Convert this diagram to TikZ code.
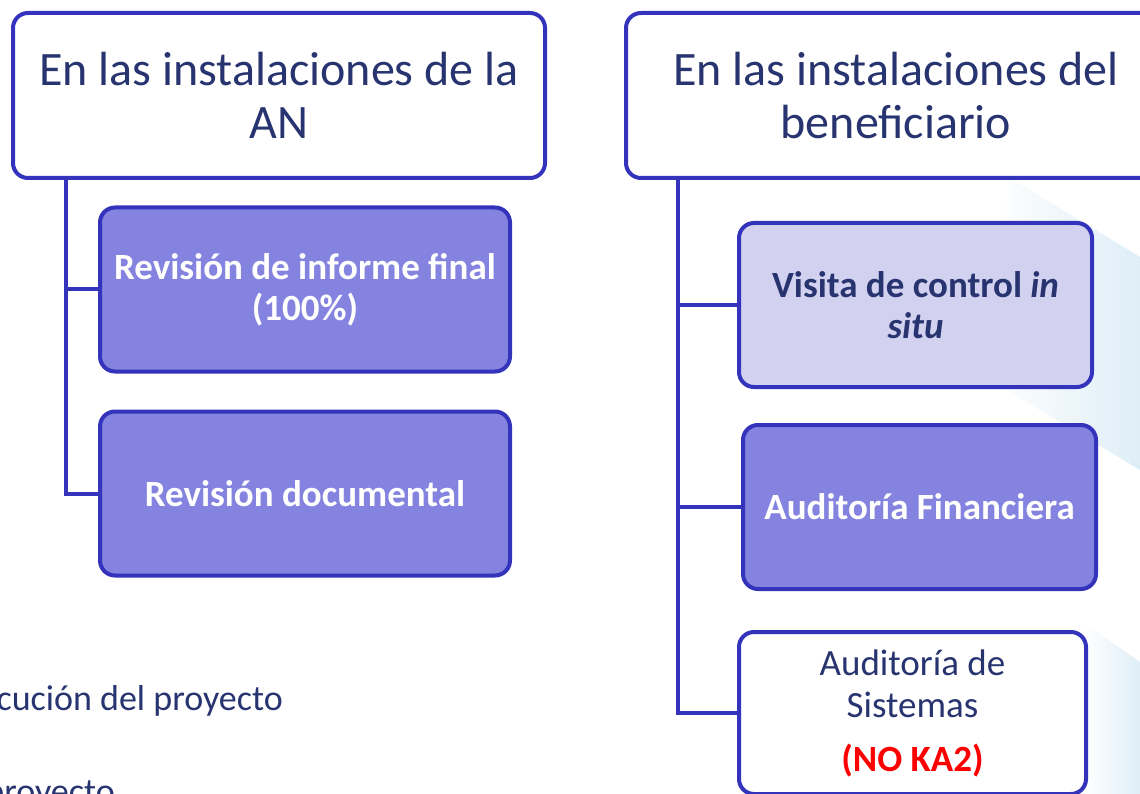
\documentclass[tikz,border=0pt]{standalone}
\usepackage{fontspec}
\setmainfont{Carlito}
\usetikzlibrary{positioning}
\definecolor{borde}{RGB}{51,51,187}
\definecolor{lila}{RGB}{132,132,224}
\definecolor{lilaclaro}{RGB}{210,210,240}
\definecolor{marino}{RGB}{40,52,112}
\definecolor{celeste}{RGB}{222,238,247}

\begin{document}
\begin{tikzpicture}[x=1pt, y=-1pt,
    caja/.style={draw=borde, line width=4pt, rounded corners=15pt, align=center, inner sep=0pt},
    titulo/.style={caja, fill=white, minimum width=532pt, minimum height=165pt, text=marino, font=\fontsize{48}{53}\selectfont},
    hoja/.style={caja, minimum width=410pt, minimum height=164pt, font=\fontsize{37}{41}\selectfont\bfseries},
    rama/.style={draw=borde, line width=4pt},
    fondo/.style={anchor=base east, inner sep=0pt, text=marino, font=\fontsize{36}{42}\selectfont}]
    \useasboundingbox (0,0) rectangle (1140,794);
    \clip (0,0) rectangle (1140,794);
    % 背景
    \shade[left color=white, right color=celeste] (1010,178) -- (1140,257) -- (1140,470) -- (990,380) -- cycle;
    \shade[left color=white, right color=celeste] (1083,622) -- (1140,662) -- (1140,794) -- (1083,794) -- cycle;
    \node[fondo] (txt1) at (283,710) {cución del proyecto};
    \node[fondo] (txt2) at (115,803) {proyecto};
    % 两个标题
    \node[titulo] (AN) at (279,95.5) {En las instalaciones de la\\AN};
    \node[titulo, minimum width=540pt] (BEN) at (896,95.5) {En las instalaciones del\\beneficiario};
    % 左边
    \node[hoja, fill=lila, text=white] (R1) at (305,289.5) {Revisión de informe final\\(100\%)};
    \node[hoja, fill=lila, text=white] (R2) at (305,493.5) {Revisión documental};
    % 右边
    \node[hoja, fill=lilaclaro, text=marino, minimum width=353pt] (V1) at (915.5,305) {Visita de control \textit{in}\\\textit{situ}};
    \node[hoja, fill=lila, text=white, minimum width=353pt] (V2) at (919.5,507) {Auditoría Financiera};
    \node[hoja, fill=white, text=marino, minimum width=347pt, minimum height=162pt, font=\fontsize{37}{42}\selectfont] (V3) at (912.5,713)
        {Auditoría de\\Sistemas\\[12pt]{\bfseries\color{red}(NO KA2)}};
    % 连线
    \coordinate (tA) at ([xshift=55pt]AN.south west);
    \coordinate (tB) at ([xshift=54pt]BEN.south west);
    \foreach \h in {R1,R2}
        \draw[rama] (tA) |- (\h.west);
    \foreach \h in {V1,V2,V3}
        \draw[rama] (tB) |- (\h.west);
\end{tikzpicture}
\end{document}
